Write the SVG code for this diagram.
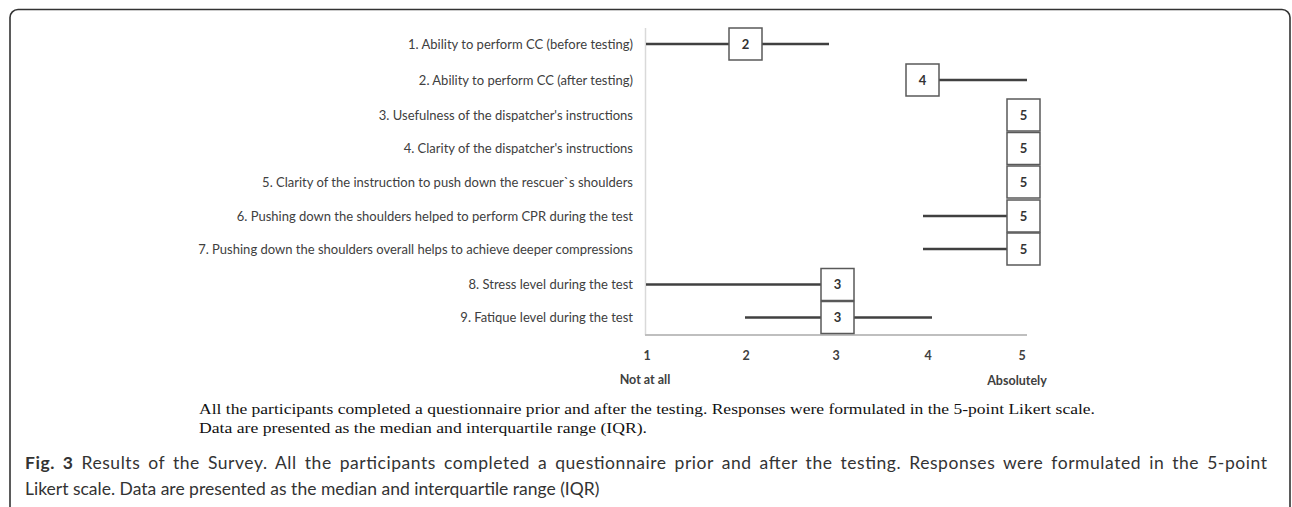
<svg xmlns="http://www.w3.org/2000/svg" width="1292" height="507" viewBox="0 0 1292 507">
<style>
.lbl{font-family:Lato,"Open Sans",sans-serif;font-size:13px;fill:#404040;text-anchor:end}
.box{fill:#fff;stroke:#595959;stroke-width:1.5}
.num{font-family:Lato,"Open Sans",sans-serif;font-size:13px;font-weight:bold;fill:#333;text-anchor:middle}
.tick{font-family:Lato,"Open Sans",sans-serif;font-size:12.5px;font-weight:bold;fill:#404040;text-anchor:middle}
.wh{stroke:#404040;stroke-width:2.5;fill:none}
.cap{font-family:"Liberation Serif","Times New Roman",serif;font-size:15.5px;fill:#111}
.fig{font-family:Lato,"Open Sans",sans-serif;font-size:17.5px;fill:#333}
</style>
<rect x="10" y="9.5" width="1280" height="520" rx="8" ry="8" fill="#fff" stroke="#333" stroke-width="1.6"/>
<g id="axes">
<line x1="645.5" y1="28" x2="645.5" y2="335" stroke="#d9d9d9" stroke-width="1.5"/>
<line x1="645" y1="335" x2="1027" y2="335" stroke="#bfbfbf" stroke-width="2"/>
</g>
<g id="connectors">
<line class="wh" x1="646" y1="44" x2="729" y2="44"/>
<line class="wh" x1="762" y1="44" x2="829" y2="44"/>
<line class="wh" x1="939" y1="80" x2="1027" y2="80"/>
<line class="wh" x1="923" y1="216" x2="1007" y2="216"/>
<line class="wh" x1="923" y1="249" x2="1007" y2="249"/>
<line class="wh" x1="646" y1="284.5" x2="821" y2="284.5"/>
<line class="wh" x1="745" y1="317.5" x2="821" y2="317.5"/>
<line class="wh" x1="854" y1="317.5" x2="932" y2="317.5"/>
</g>
<g id="item1"><text class="lbl" x="633" y="48.5">1. Ability to perform CC (before testing)</text><rect class="box" x="729" y="28" width="33" height="32"/><text class="num" x="745.5" y="48.5">2</text></g>
<g id="item2"><text class="lbl" x="633" y="84.5">2. Ability to perform CC (after testing)</text><rect class="box" x="906" y="64" width="33" height="32"/><text class="num" x="922.5" y="84.5">4</text></g>
<g id="item3"><text class="lbl" x="633" y="119.5">3. Usefulness of the dispatcher's instructions</text><rect class="box" x="1007" y="99" width="33" height="32"/><text class="num" x="1023.5" y="119.5">5</text></g>
<g id="item4"><text class="lbl" x="633" y="153">4. Clarity of the dispatcher's instructions</text><rect class="box" x="1007" y="132.5" width="33" height="32"/><text class="num" x="1023.5" y="153">5</text></g>
<g id="item5"><text class="lbl" x="633" y="186.5">5. Clarity of the instruction to push down the rescuer`s shoulders</text><rect class="box" x="1007" y="166" width="33" height="32"/><text class="num" x="1023.5" y="186.5">5</text></g>
<g id="item6"><text class="lbl" x="633" y="220.5">6. Pushing down the shoulders helped to perform CPR during the test</text><rect class="box" x="1007" y="200" width="33" height="32"/><text class="num" x="1023.5" y="220.5">5</text></g>
<g id="item7"><text class="lbl" x="633" y="253.5">7. Pushing down the shoulders overall helps to achieve deeper compressions</text><rect class="box" x="1007" y="233" width="33" height="32"/><text class="num" x="1023.5" y="253.5">5</text></g>
<g id="item8"><text class="lbl" x="633" y="289">8. Stress level during the test</text><rect class="box" x="821" y="268.5" width="33" height="32"/><text class="num" x="837.5" y="289">3</text></g>
<g id="item9"><text class="lbl" x="633" y="322">9. Fatique level during the test</text><rect class="box" x="821" y="301.5" width="33" height="32"/><text class="num" x="837.5" y="322">3</text></g>
<g id="ticks">
<text class="tick" x="647" y="360">1</text>
<text class="tick" x="746" y="360">2</text>
<text class="tick" x="836" y="360">3</text>
<text class="tick" x="928" y="360">4</text>
<text class="tick" x="1022" y="360">5</text>
<text class="tick" x="645" y="384">Not at all</text>
<text class="tick" x="1017" y="385">Absolutely</text>
</g>
<g id="note">
<text class="cap" x="199" y="414" textLength="896" lengthAdjust="spacingAndGlyphs">All the participants completed a questionnaire prior and after the testing. Responses were formulated in the 5-point Likert scale.</text>
<text class="cap" x="199" y="433" textLength="448" lengthAdjust="spacingAndGlyphs">Data are presented as the median and interquartile range (IQR).</text>
</g>
<g id="caption">
<text class="fig" x="25" y="469" word-spacing="3" textLength="1242" lengthAdjust="spacing"><tspan font-weight="bold">Fig. 3</tspan> Results of the Survey. All the participants completed a questionnaire prior and after the testing. Responses were formulated in the 5-point</text>
<text class="fig" x="25" y="495">Likert scale. Data are presented as the median and interquartile range (IQR)</text>
</g>
</svg>
